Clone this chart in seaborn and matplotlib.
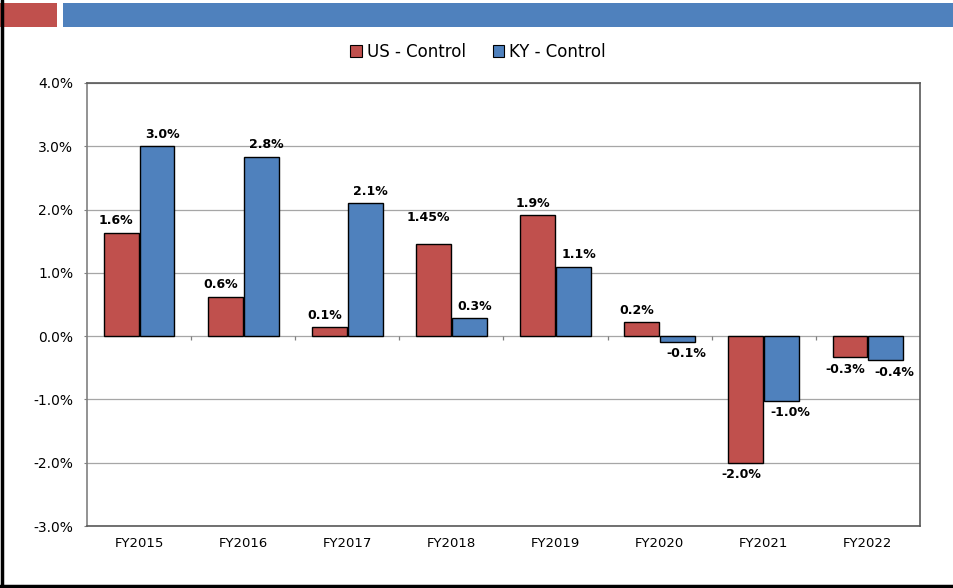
import pandas as pd
import matplotlib
matplotlib.use("Agg")
import matplotlib.pyplot as plt
from matplotlib.patches import Rectangle, Patch
from matplotlib.lines import Line2D
import seaborn as sns

# values (percent)
years = ["FY2015", "FY2016", "FY2017", "FY2018", "FY2019", "FY2020", "FY2021", "FY2022"]
us_control = [1.63, 0.62, 0.14, 1.45, 1.91, 0.22, -2.0, -0.33]
ky_control = [3.0, 2.83, 2.1, 0.28, 1.1, -0.09, -1.02, -0.38]
us_labels = ["1.6%", "0.6%", "0.1%", "1.45%", "1.9%", "0.2%", "-2.0%", "-0.3%"]
ky_labels = ["3.0%", "2.8%", "2.1%", "0.3%", "1.1%", "-0.1%", "-1.0%", "-0.4%"]
series_names = ["US - Control", "KY - Control"]
y_ticks = [-3, -2, -1, 0, 1, 2, 3, 4]

RED = "#C0504D"
BLUE = "#4F81BD"

df = pd.DataFrame({
    "year": years * 2,
    "value": us_control + ky_control,
    "series": [series_names[0]] * len(years) + [series_names[1]] * len(years),
})

sns.set_style("white")
plt.rcParams["font.family"] = ["DejaVu Sans"]
plt.rcParams["text.color"] = "black"
plt.rcParams["xtick.color"] = "black"
plt.rcParams["ytick.color"] = "black"

W, H = 954, 588
fig = plt.figure(figsize=(W / 100, H / 100), dpi=100)
ax = fig.add_axes([87 / W, 1 - 526 / H, (920 - 87) / W, (526 - 83) / H])

sns.barplot(data=df, x="year", y="value", hue="series", palette=[RED, BLUE],
            saturation=1, edgecolor="black", linewidth=1, width=0.69, gap=0.03,
            legend=False, ax=ax)

# data labels; excel pushes each pair's labels a little outward
for cont, labels, dx in zip(ax.containers, [us_labels, ky_labels], [-3.5, 4]):
    texts = ax.bar_label(cont, labels=labels, padding=4, fontsize=9, fontweight="bold",
                         color="black")
    for t, lab in zip(texts, labels):
        t.xyann = (dx, t.xyann[1])
        if labels is ky_labels and lab.startswith("-"):
            t.xyann = (6, t.xyann[1])
    if labels is us_labels:
        # FY2018 label sits higher in the original
        texts[3].xyann = (-3.5, 15)

ax.set_ylim(-3, 4)
ax.set_xlim(-0.5, len(years) - 0.5)
ax.set_yticks(y_ticks)
ax.set_yticklabels([f"{t:.1f}%" for t in y_ticks], fontsize=10)
ax.tick_params(axis="x", length=0, pad=8, labelsize=9.5)
ax.tick_params(axis="y", left=True, length=2, pad=8, color="#808080")
ax.set_xlabel("")
ax.set_ylabel("")

ax.yaxis.grid(True, color="#A6A6A6", linewidth=0.9)
ax.set_axisbelow(True)
for sp in ax.spines.values():
    sp.set_color("#595959")
    sp.set_linewidth(1.2)
ax.spines["left"].set_color("#808080")

# small category separators on the zero line
ax.vlines([i + 0.5 for i in range(len(years) - 1)], 0, -0.06, color="#808080", linewidth=0.9)

handles = [Patch(facecolor=RED, edgecolor="black", linewidth=0.8),
           Patch(facecolor=BLUE, edgecolor="black", linewidth=0.8)]
fig.legend(handles, series_names, loc="center", bbox_to_anchor=(478 / W, 1 - 52 / H),
           ncol=2, frameon=False, fontsize=12, handlelength=0.7, handleheight=0.7,
           handletextpad=0.3, columnspacing=1.6)

# slide decoration: header bars and frame
fig.add_artist(Rectangle((0, 1 - 27 / H), 57 / W, 24 / H, transform=fig.transFigure,
                         facecolor=RED, edgecolor="none"))
fig.add_artist(Rectangle((63 / W, 1 - 27 / H), (W - 63) / W, 24 / H, transform=fig.transFigure,
                         facecolor=BLUE, edgecolor="none"))
fig.add_artist(Line2D([1.5 / W, 1.5 / W], [0, 1], transform=fig.transFigure, color="black", linewidth=2.5))
fig.add_artist(Line2D([0, 1], [2 / H, 2 / H], transform=fig.transFigure, color="black", linewidth=2.5))

fig.savefig("out.png", dpi=100)
